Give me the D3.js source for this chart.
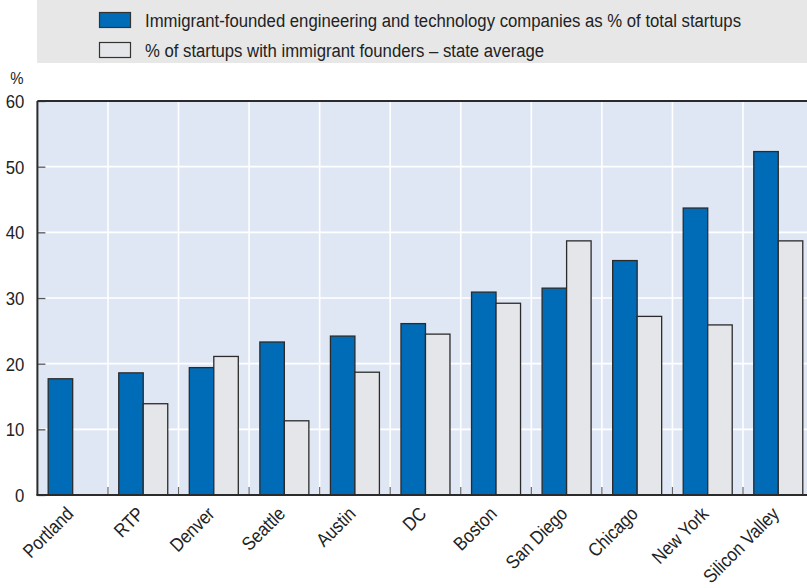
<!DOCTYPE html>
<html>
<head>
<meta charset="utf-8">
<script src="https://cdn.jsdelivr.net/npm/d3@7"></script>
<style>
  html, body { margin: 0; padding: 0; background: #ffffff; }
  svg { display: block; }
  text { font-family: "Liberation Sans", Arial, sans-serif; fill: #222; }
</style>
</head>
<body>
<svg id="chart" width="807" height="588"></svg>
<script>
// Cities, ordered by share of immigrant-founded tech startups
const cities = ["Portland", "RTP", "Denver", "Seattle", "Austin", "DC", "Boston",
                "San Diego", "Chicago", "New York", "Silicon Valley"];
// Immigrant-founded engineering and technology companies as % of total startups
const techShare = [17.7, 18.6, 19.4, 23.3, 24.2, 26.1, 30.9, 31.5, 35.7, 43.7, 52.3];
// % of startups with immigrant founders – state average (none for Portland)
const stateAvg = [null, 13.9, 21.1, 11.3, 18.7, 24.5, 29.2, 38.7, 27.2, 25.9, 38.7];
const yTicks = [0, 10, 20, 30, 40, 50, 60];
const seriesNames = [
  "Immigrant-founded engineering and technology companies as % of total startups",
  "% of startups with immigrant founders – state average"
];
const seriesColors = ["#006bb6", "#e5e6e9"];

// Condensed type: Liberation Sans squeezed horizontally
const NARROW = 0.88;

const svg = d3.select("#chart");
const W = 807, H = 588;
const margin = { left: 37.4, top: 101, bottom: 93 };
const plotBottom = H - margin.bottom;
const step = 70.56;

// Legend panel
svg.append("rect").attr("x", 37).attr("y", 0).attr("width", W - 37).attr("height", 63)
  .attr("fill", "#e7e7e7");
const legend = svg.append("g");
seriesNames.forEach((name, i) => {
  const yy = 12 + i * 30;
  legend.append("rect").attr("x", 99.5).attr("y", yy + 0.5).attr("width", 31).attr("height", 15)
    .attr("fill", seriesColors[i]).attr("stroke", "#333").attr("stroke-width", 1.2);
  legend.append("text")
    .attr("transform", `translate(145,${yy + 8}) scale(${NARROW},1)`)
    .attr("dy", "0.35em").attr("font-size", 19).text(name);
});

// Bands run past the right edge of the page
const x = d3.scaleBand().domain(cities)
  .range([margin.left, margin.left + step * cities.length]).padding(0);
const x1 = d3.scaleBand().domain([0, 1]).range([0, x.bandwidth()]).paddingInner(0).paddingOuter(0.44);
const y = d3.scaleLinear().domain([0, 60]).range([plotBottom, margin.top]);

// Plot background
svg.append("rect").attr("x", margin.left).attr("y", margin.top)
  .attr("width", W - margin.left).attr("height", plotBottom - margin.top)
  .attr("fill", "#e0e7f4");

// White grid lines
const grid = svg.append("g");
grid.selectAll("line.h").data(yTicks.filter(t => t > 0 && t < 60)).join("line")
  .attr("x1", margin.left).attr("x2", W).attr("y1", d => y(d)).attr("y2", d => y(d))
  .attr("stroke", "#fff").attr("stroke-width", 1.6);
grid.selectAll("line.v").data(cities.slice(1)).join("line")
  .attr("x1", d => x(d)).attr("x2", d => x(d)).attr("y1", margin.top).attr("y2", plotBottom)
  .attr("stroke", "#fff").attr("stroke-width", 1.6);

// Bars
const groups = svg.append("g").selectAll("g").data(cities).join("g")
  .attr("transform", d => `translate(${x(d)},0)`);
groups.each(function(c, i) {
  const vals = [techShare[i], stateAvg[i]];
  vals.forEach((v, s) => {
    if (v == null) return;
    d3.select(this).append("rect")
      .attr("x", x1(s)).attr("width", x1.bandwidth())
      .attr("y", y(v)).attr("height", y(0) - y(v))
      .attr("fill", seriesColors[s]).attr("stroke", "#2b2b2b").attr("stroke-width", 1.3);
  });
});

// Small tick marks at category boundaries on the baseline
svg.append("g").selectAll("line").data(cities.slice(1)).join("line")
  .attr("x1", d => x(d)).attr("x2", d => x(d)).attr("y1", plotBottom - 8).attr("y2", plotBottom)
  .attr("stroke", "#666").attr("stroke-width", 1.2);

// Y axis: short ticks pointing into the plot
const yAxis = d3.axisLeft(y).tickValues(yTicks).tickSize(-8).tickPadding(0);
const ya = svg.append("g").attr("transform", `translate(${margin.left},0)`).call(yAxis);
ya.select(".domain").remove();
ya.selectAll(".tick line").attr("stroke", "#555").attr("stroke-width", 1.3);
ya.selectAll(".tick text")
  .attr("x", null)
  .attr("transform", `translate(-13,0) scale(${NARROW},1)`)
  .attr("dy", "0.35em")
  .attr("font-size", 19).attr("fill", "#222")
  .attr("font-family", "'Liberation Sans', Arial, sans-serif");
svg.append("text").attr("transform", `translate(17,78) scale(${NARROW},1)`)
  .attr("text-anchor", "middle").attr("dy", "0.35em")
  .attr("font-size", 17).text("%");

// Frame: left, top, bottom
svg.append("line").attr("x1", margin.left).attr("x2", W).attr("y1", margin.top).attr("y2", margin.top)
  .attr("stroke", "#2b2b2b").attr("stroke-width", 2);
svg.append("line").attr("x1", margin.left).attr("x2", margin.left).attr("y1", margin.top).attr("y2", plotBottom)
  .attr("stroke", "#2b2b2b").attr("stroke-width", 2);
svg.append("line").attr("x1", margin.left - 1).attr("x2", W).attr("y1", plotBottom).attr("y2", plotBottom)
  .attr("stroke", "#2b2b2b").attr("stroke-width", 2);

// Rotated category labels
svg.append("g").selectAll("text").data(cities).join("text")
  .attr("text-anchor", "end")
  .attr("transform", d => `translate(${x(d) + x.bandwidth() / 2 + 2},${plotBottom + 20}) rotate(-45) scale(${NARROW},1)`)
  .attr("font-size", 19).text(d => d);
</script>
</body>
</html>
